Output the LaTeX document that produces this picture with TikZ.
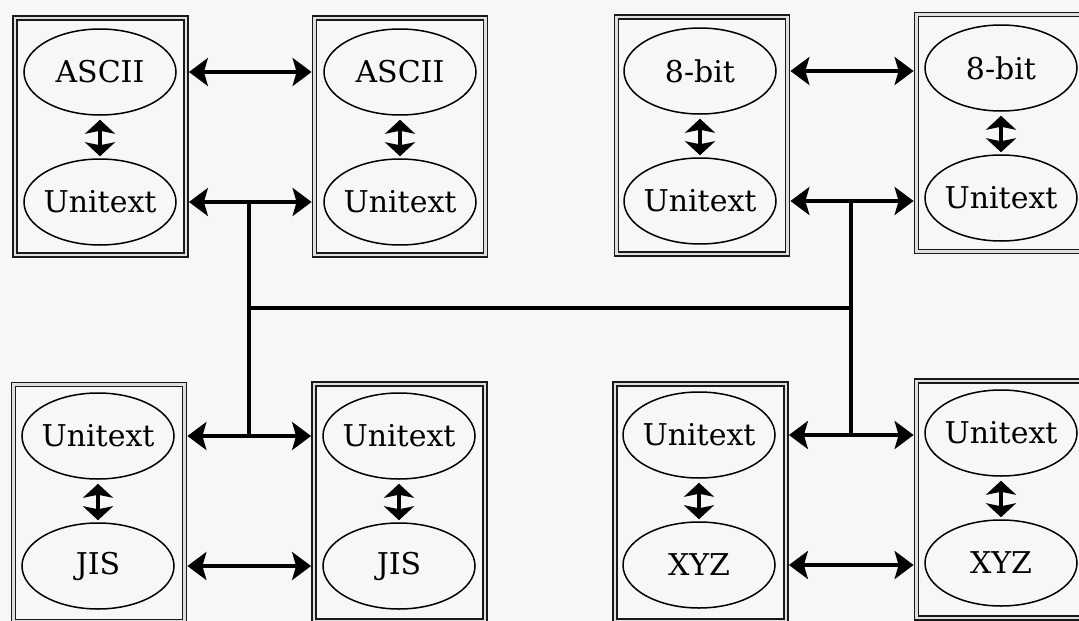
\documentclass[tikz,border=0pt]{standalone}
\usepackage{fontspec}
\setmainfont{DejaVu Serif}
\usetikzlibrary{arrows.meta,shapes.geometric,calc}
\tikzset{
  box/.style={draw=black!90, double=gray!25, double distance=2.6pt, line width=1.6pt,
    minimum width=171pt, minimum height=237pt, inner sep=0pt, outer sep=2.9pt},
  ell/.style={ellipse, draw=black, line width=1.5pt, minimum width=152pt, minimum height=86pt,
    inner sep=0pt, font=\fontsize{30}{32}\selectfont, text=black},
  hd/.tip={Stealth[length=19pt,width=28pt,inset=4pt]},
  vd/.tip={Stealth[length=14pt,width=30pt,inset=3pt]},
  harrow/.style={line width=3.4pt, draw=black, hd-hd},
  varrow/.style={line width=3.8pt, draw=black, vd-vd, shorten <=4pt, shorten >=2pt},
  bus/.style={line width=3.4pt, draw=black}
}
\newcommand{\lbl}[1]{\makebox[0pt]{#1}}
\begin{document}
\begin{tikzpicture}[x=1pt,y=-1pt]
\fill[gray!6] (0,0) rectangle (1079,621);
\useasboundingbox (0,0) rectangle (1079,621);
\clip (0,0) rectangle (1079,621);
% boxes
\node[box] (b1) at (100.5,136.5) {};
\node[box] (b2) at (400,136.5) {};
\node[box] (b3) at (702,135.5) {};
\node[box] (b4) at (1002,133) {};
\node[box] (b5) at (99,503) {};
\node[box] (b6) at (399.5,502.5) {};
\node[box] (b7) at (700.5,502.5) {};
\node[box] (b8) at (1002,499.5) {};
% ellipses
\node[ell] (e1a) at (100,72) {\lbl{ASCII}};
\node[ell] (e1b) at (100,202) {\lbl{Unitext}};
\node[ell] (e2a) at (400,72) {\lbl{ASCII}};
\node[ell] (e2b) at (400,202) {\lbl{Unitext}};
\node[ell] (e3a) at (700,71) {\lbl{8-bit}};
\node[ell] (e3b) at (700,201) {\lbl{Unitext}};
\node[ell] (e4a) at (1001,68) {\lbl{8-bit}};
\node[ell] (e4b) at (1001,198) {\lbl{Unitext}};
\node[ell] (e5a) at (98,436) {\lbl{Unitext}};
\node[ell] (e5b) at (98,566) {\lbl{JIS}};
\node[ell] (e6a) at (399,436) {\lbl{Unitext}};
\node[ell] (e6b) at (399,566) {\lbl{JIS}};
\node[ell] (e7a) at (699,435) {\lbl{Unitext}};
\node[ell] (e7b) at (699,565) {\lbl{XYZ}};
\node[ell] (e8a) at (1001,433) {\lbl{Unitext}};
\node[ell] (e8b) at (1001,563) {\lbl{XYZ}};
% vertical arrows inside boxes
\foreach \i in {1,...,8}{
  \draw[varrow] (e\i a.south) -- (e\i b.north);
}
% horizontal arrows
\draw[harrow] (b1.east |- e1a) -- (b2.west |- e1a);
\draw[harrow] (b1.east |- e1b) -- (b2.west |- e1b);
\draw[harrow] (b3.east |- e3a) -- (b4.west |- e3a);
\draw[harrow] (b3.east |- e3b) -- (b4.west |- e3b);
\draw[harrow] (b5.east |- e5a) -- (b6.west |- e5a);
\draw[harrow] (b5.east |- e5b) -- (b6.west |- e5b);
\draw[harrow] (b7.east |- e7a) -- (b8.west |- e7a);
\draw[harrow] (b7.east |- e7b) -- (b8.west |- e7b);
% bus
\coordinate (j1) at (249,202);
\coordinate (j2) at (249,437);
\coordinate (j3) at (851,200);
\coordinate (j4) at (851,435);
\coordinate (m1) at (249,308);
\coordinate (m2) at (851,308);
\draw[bus] (j1) -- (j2);
\draw[bus] (j3) -- (j4);
\draw[bus] (m1) -- (m2);
\end{tikzpicture}
\end{document}
